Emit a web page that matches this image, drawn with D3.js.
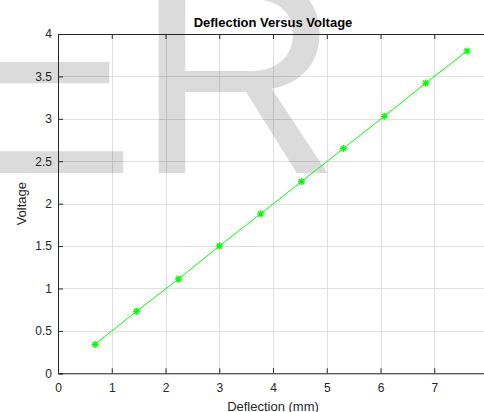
<!DOCTYPE html>
<html>
<head>
<meta charset="utf-8">
<script src="https://cdn.jsdelivr.net/npm/d3@7"></script>
<style>
  body { margin: 0; background: #fff; }
  svg { display: block; font-family: "Liberation Sans", Arial, Helvetica, sans-serif; }
</style>
</head>
<body>
<div id="chart"></div>
<script>
var deflection = [0.69, 1.46, 2.24, 3.00, 3.77, 4.53, 5.31, 6.07, 6.84, 7.61];
var voltage = [0.34, 0.73, 1.11, 1.50, 1.88, 2.26, 2.65, 3.03, 3.42, 3.80];
var xTicks = [0, 1, 2, 3, 4, 5, 6, 7, 8];
var yTicks = [0, 0.5, 1, 1.5, 2, 2.5, 3, 3.5, 4];

var width = 484;
var height = 412;
// axes box (right edge runs past the window, like the reference)
var boxLeft = 58, boxRight = 488, boxTop = 34, boxBottom = 373.3;

var svg = d3.select("#chart")
    .append("svg")
    .attr("width", width)
    .attr("height", height);

var x = d3.scaleLinear().domain([0, 8]).range([boxLeft, boxRight]);
var y = d3.scaleLinear().domain([0, 4]).range([boxBottom, boxTop]);

// grid
svg.append("g").selectAll("line").data(xTicks).enter()
    .append("line")
    .attr("x1", function(d) { return Math.round(x(d)) + 0.5; })
    .attr("x2", function(d) { return Math.round(x(d)) + 0.5; })
    .attr("y1", boxTop).attr("y2", boxBottom)
    .attr("stroke", "#dfdfdf");
svg.append("g").selectAll("line").data(yTicks).enter()
    .append("line")
    .attr("y1", function(d) { return Math.round(y(d)) + 0.5; })
    .attr("y2", function(d) { return Math.round(y(d)) + 0.5; })
    .attr("x1", boxLeft).attr("x2", boxRight)
    .attr("stroke", "#dfdfdf");

// watermark
svg.append("text")
    .attr("x", -54)
    .attr("y", 173)
    .attr("font-size", 284)
    .attr("font-family", "Liberation Sans, Arial, sans-serif")
    .attr("fill", "#000")
    .attr("fill-opacity", 0.14)
    .text("ER");

// axes (ticks point inward, like matlab)
var xAxis = d3.axisBottom(x).tickValues(xTicks).tickSize(-5).tickPadding(10).tickFormat(d3.format("d"));
var yAxis = d3.axisLeft(y).tickValues(yTicks).tickSize(-5).tickPadding(6).tickFormat(function(d) { return String(d); });
var xTop = d3.axisTop(x).tickValues(xTicks).tickSize(-5).tickFormat("");

var gx = svg.append("g").attr("transform", "translate(0," + boxBottom + ")").call(xAxis);
var gy = svg.append("g").attr("transform", "translate(" + boxLeft + ",0)").call(yAxis);
var gt = svg.append("g").attr("transform", "translate(0," + boxTop + ")").call(xTop);

[gx, gy, gt].forEach(function(g) {
  g.select(".domain").attr("stroke", "#262626");
  g.selectAll(".tick line").attr("stroke", "#262626");
  g.selectAll(".tick text").attr("fill", "#262626").attr("font-size", 12)
      .attr("font-family", "Liberation Sans, Arial, sans-serif");
});

// data line
var line = d3.line()
    .x(function(d, i) { return x(deflection[i]); })
    .y(function(d) { return y(d); });

svg.append("path")
    .datum(voltage)
    .attr("d", line)
    .attr("fill", "none")
    .attr("stroke", "#00ff00")
    .attr("stroke-width", 1);

// asterisk markers
var r = 3.5;
var markers = svg.append("g").selectAll("g").data(voltage).enter()
    .append("g")
    .attr("transform", function(d, i) { return "translate(" + x(deflection[i]) + "," + y(d) + ")"; });
markers.append("path")
    .attr("d", "M" + (-r) + ",0H" + r + "M0," + (-r) + "V" + r +
          "M" + (-r * 0.75) + "," + (-r * 0.75) + "L" + (r * 0.75) + "," + (r * 0.75) +
          "M" + (-r * 0.75) + "," + (r * 0.75) + "L" + (r * 0.75) + "," + (-r * 0.75))
    .attr("stroke", "#00ff00")
    .attr("stroke-width", 1.3)
    .attr("fill", "none");

// labels
svg.append("text")
    .attr("x", (boxLeft + boxRight) / 2)
    .attr("y", 27)
    .attr("text-anchor", "middle")
    .attr("font-size", 13)
    .attr("font-weight", "bold")
    .attr("fill", "#000")
    .text("Deflection Versus Voltage");

svg.append("text")
    .attr("x", (boxLeft + boxRight) / 2)
    .attr("y", 411)
    .attr("text-anchor", "middle")
    .attr("font-size", 13)
    .attr("fill", "#262626")
    .text("Deflection (mm)");

svg.append("text")
    .attr("transform", "translate(26," + (boxTop + boxBottom) / 2 + ")rotate(-90)")
    .attr("text-anchor", "middle")
    .attr("font-size", 13)
    .attr("fill", "#262626")
    .text("Voltage");
</script>
</body>
</html>
